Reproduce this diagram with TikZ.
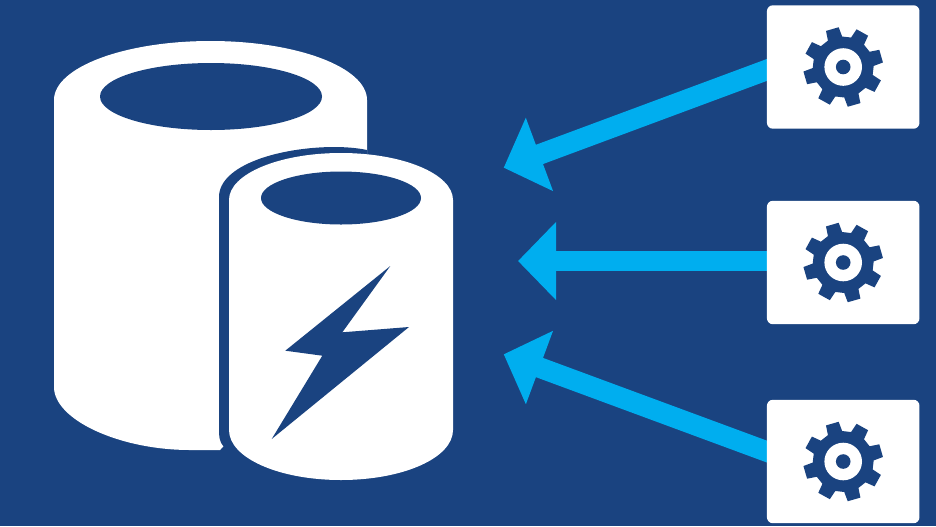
\documentclass[tikz,border=0pt]{standalone}
\usetikzlibrary{arrows.meta,calc,backgrounds}
\definecolor{navy}{HTML}{1A4380}
\definecolor{sky}{HTML}{00AEEF}
\tikzset{
  x=0.75pt,y=-0.75pt,
  card/.style={fill=white,rounded corners=4.5pt,inner sep=0pt,minimum width=114.4pt,minimum height=92.6pt},
  flow/.style={draw=sky,line width=15.4pt,shorten <=-8pt,-{Triangle[length=28.6pt,width=57pt]}},
  pics/gear/.style={code={
    \fill[navy] foreach \k in {0,...,7}{
      \ifnum\k=0 (-106-14:30.5) \else -- ({-106+\k*45-14}:30.5) \fi
      -- ({-106+\k*45-9.5}:40) -- ({-106+\k*45+9.5}:40) -- ({-106+\k*45+14}:30.5)
    } -- cycle;
    \fill[white] (0,0) circle[radius=18.8];
    \fill[navy] (0,0) circle[radius=7.3];
  }}
}
\begin{document}
\begin{tikzpicture}
\useasboundingbox (0,0) rectangle (936,526);
% cards and gears
\node[card] (box1) at (843.2,67) {};
\node[card] (box2) at (843.2,262.5) {};
\node[card] (box3) at (843.2,461.5) {};
\pic (gear1) at (box1.center) {gear};
\pic (gear2) at (box2.center) {gear};
\pic (gear3) at (box3.center) {gear};
% arrows
\coordinate (tip1) at (503.7,167.7);
\coordinate (tip2) at (518,261);
\coordinate (tip3) at (503.7,354.3);
\begin{scope}[on background layer]
\fill[navy] (0,0) rectangle (936,526);
\draw[flow] ($(box1.west)+(0,3)$) -- (tip1);
\draw[flow] ($(box2.west)+(0,-1.5)$) -- (tip2);
\draw[flow] ($(box3.west)+(0,-10)$) -- (tip3);
\end{scope}
% large cylinder
\fill[white] (54,100) .. controls (54,67.4) and (124,41) .. (210.5,41)
  .. controls (297,41) and (367,67.4) .. (367,100)
  -- (367,300) -- (220,450) -- (190,450)
  .. controls (120,450) and (54,420) .. (54,387) -- cycle;
\fill[navy] (211,96.5) ellipse[x radius=111,y radius=33.5];
% halo of the small cylinder
\fill[navy] (219,197) .. controls (219,165) and (280,147) .. (335,147)
  .. controls (345,147) and (358,148) .. (367,150)
  -- (367,300) -- (260,449) -- (227,449)
  .. controls (222,447) and (219,440) .. (219,433) -- cycle;
% small cylinder
\fill[white] (229,200) .. controls (229,174) and (279,153) .. (341,153)
  .. controls (403,153) and (453,174) .. (453,200)
  -- (453,430)
  .. controls (453,458) and (403,480) .. (341,480)
  .. controls (279,480) and (229,458) .. (229,430) -- cycle;
\fill[navy] (341,198) ellipse[x radius=80,y radius=26.5];
% lightning bolt
\fill[navy] (390.3,266) -- (342.3,332.3) -- (409,327) -- (271.7,439)
  -- (322.3,355.7) -- (285.3,350.7) -- cycle;
\end{tikzpicture}
\end{document}
